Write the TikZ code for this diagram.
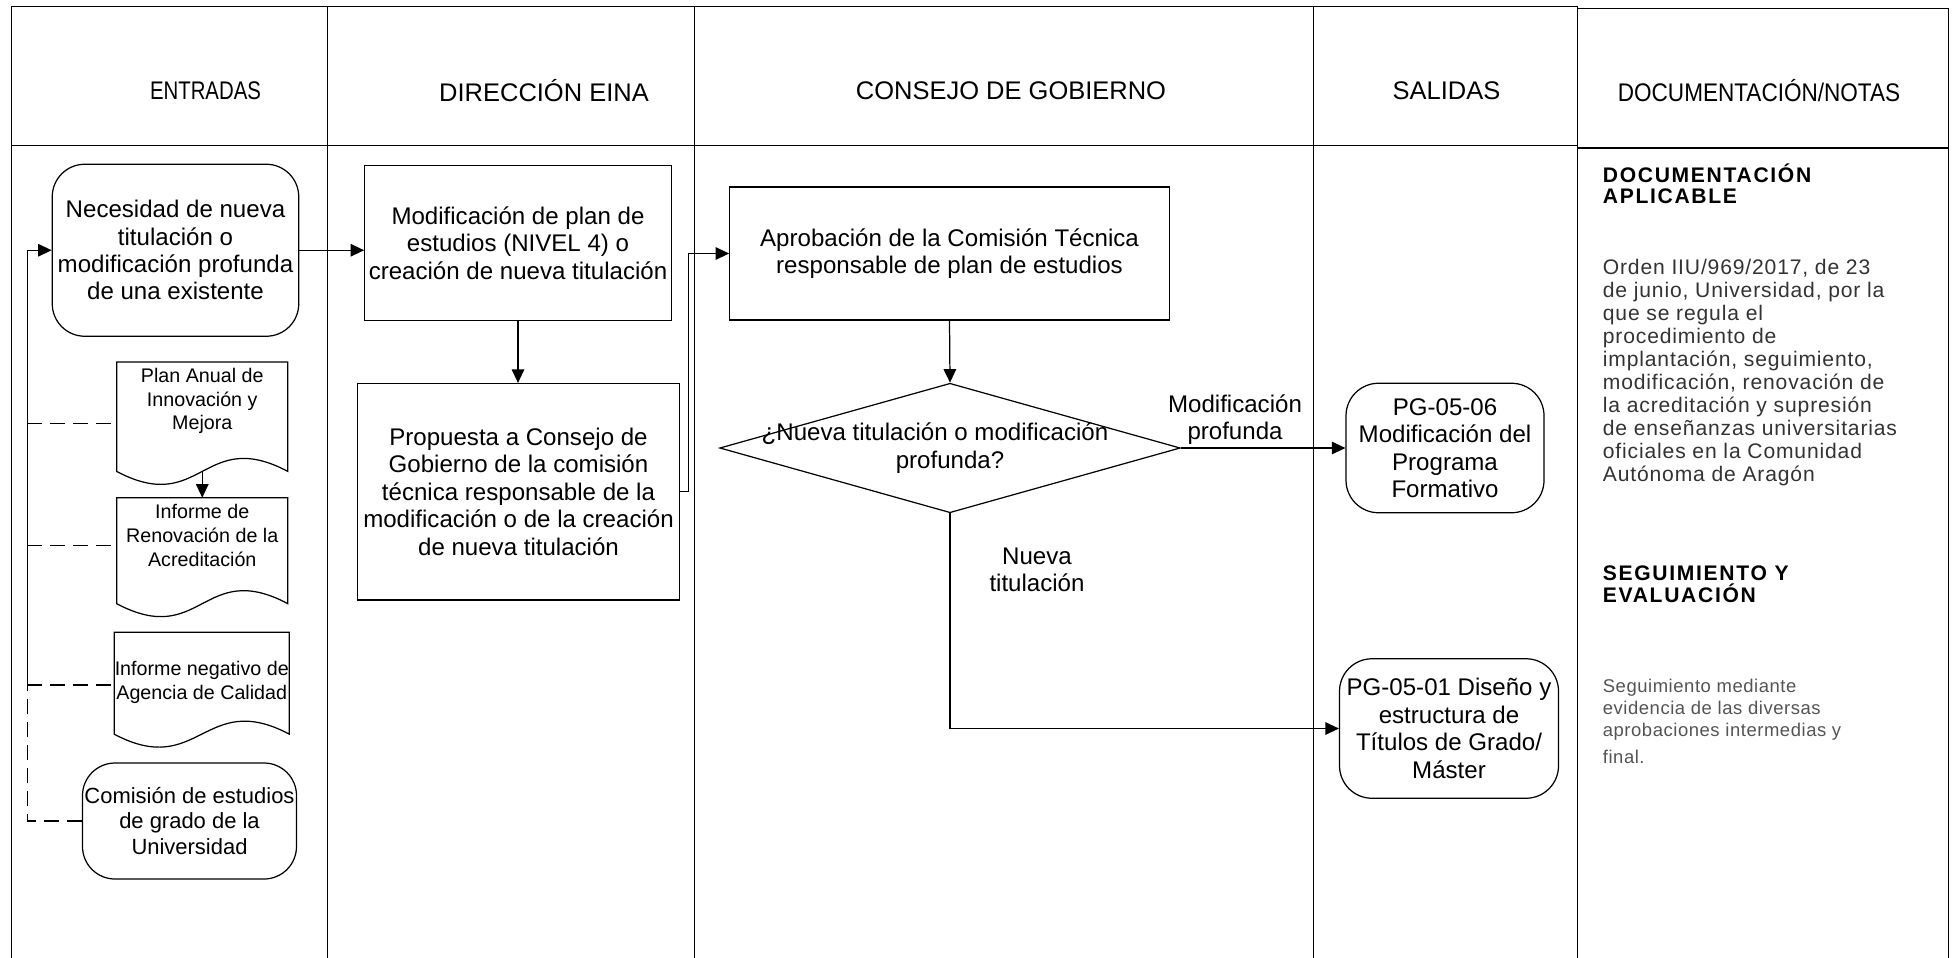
\documentclass[tikz,border=0pt]{standalone}
\usepackage{fontspec}
\setmainfont{Liberation Sans}
\newfontfamily\headfont[LetterSpace=8]{Liberation Sans}
\newfontfamily\notesfont[LetterSpace=4]{Liberation Sans}
\newfontfamily\smallnotesfont[LetterSpace=3]{Liberation Sans}
\usepackage{xcolor}
\usepackage{tikz}
\usetikzlibrary{
    positioning,
    arrows.meta,
    shapes.geometric,
    calc,
}
\definecolor{notegray}{gray}{0.2}
\definecolor{smallgray}{gray}{0.33}
\newcommand{\boxfont}{\fontsize{13.7}{15.6}\selectfont}
\newcommand{\docfont}{\fontsize{11.2}{13.4}\selectfont}
\tikzset{
    % Lane styles
    lane/.style={draw, line width=0.7pt},
    lane title/.style={font=\fontsize{14.5}{17}\selectfont},
    % Block styles
    process/.style={rectangle, draw, line width=0.7pt, align=center,
                    inner sep=0pt, font=\boxfont},
    terminal/.style={process, rounded corners=0.65cm},
    decision/.style={diamond, draw, line width=0.7pt, inner sep=0pt},
    docbox/.style={rectangle, align=center, inner sep=0pt, font=\docfont},
    % Arrow styles
    arrow/.style={-{Triangle[length=2.7mm, width=2.5mm]}, line width=0.7pt},
    feed/.style={line width=0.7pt, dash pattern=on 3mm off 1.6mm},
    % Annotation styles
    branch label/.style={font=\boxfont, align=center, inner sep=0pt},
    notes head/.style={font=\headfont\fontsize{12}{12.2}\selectfont\bfseries,
                       align=left, inner sep=0pt, anchor=north west},
    notes body/.style={font=\notesfont\fontsize{12}{13.1}\selectfont,
                       text=notegray, align=left, inner sep=0pt, anchor=north west},
    notes small/.style={font=\smallnotesfont\fontsize{10.5}{12.5}\selectfont,
                        text=smallgray, align=left, inner sep=0pt, anchor=north west},
}
% document shape: outline with a wavy bottom edge under node #1
\newcommand{\docwave}[2]{%
    \draw[line width=0.7pt] (#1.north west) -- (#1.north east) -- ++(0,-#2)
        .. controls +(-1.7,0.9) and +(1.7,-0.9) .. ([yshift=-#2]#1.north west) -- cycle;
    \coordinate (#1 wave) at ([yshift=-#2]#1.north);
}

\begin{document}
\begin{tikzpicture}
    \useasboundingbox (0,0) rectangle (39.04,-19.14);

    % Lanes
    \draw[lane] (0.224,-19.4) -- (0.224,-0.125) -- (31.55,-0.125) -- (31.55,-19.4);
    \draw[lane] (0.224,-2.91) -- (31.55,-2.91);
    \draw[lane] (6.549,-0.125) -- (6.549,-19.4);
    \draw[lane] (13.894,-0.125) -- (13.894,-19.4);
    \draw[lane] (26.27,-0.125) -- (26.27,-19.4);
    \draw[lane] (31.55,-19.4) -- (31.55,-0.17) -- (38.97,-0.17) -- (38.97,-19.4);
    \draw[lane] (31.55,-2.96) -- (38.97,-2.96);

    \node[lane title, xscale=0.8, transform shape] (hEntradas) at (4.11,-1.82) {ENTRADAS};
    \node[lane title] (hDireccion) at (10.88,-1.82) {DIRECCIÓN EINA};
    \node[lane title] (hConsejo) at (20.22,-1.82) {CONSEJO DE GOBIERNO};
    \node[lane title] (hSalidas) at (28.93,-1.82) {SALIDAS};
    \node[lane title, xscale=0.885, transform shape] (hNotas) at (35.18,-1.82) {DOCUMENTACIÓN/NOTAS};

    % Entradas
    \node[terminal, minimum width=4.93cm, minimum height=3.44cm] (necesidad) at (3.51,-5.005)
        {Necesidad de nueva\\titulación o\\modificación profunda\\de una existente};
    \node[docbox, minimum width=3.41cm, minimum height=1.55cm] (plan) at (4.045,-8.02)
        {Plan Anual de\\Innovación y\\Mejora};
    \docwave{plan}{2.19cm}
    \node[docbox, minimum width=3.41cm, minimum height=1.5cm] (renov) at (4.045,-10.71)
        {Informe de\\Renovación de la\\Acreditación};
    \docwave{renov}{2.12cm}
    \node[docbox, minimum width=3.49cm, minimum height=2.0cm] (negativo) at (4.035,-13.65)
        {Informe negativo de\\Agencia de Calidad};
    \docwave{negativo}{2.04cm}
    \node[terminal, minimum width=4.28cm, minimum height=2.32cm,
          font=\fontsize{12.5}{14.5}\selectfont] (comision) at (3.79,-16.42)
        {Comisión de estudios\\de grado de la\\Universidad};

    % Direccion EINA
    \node[process, minimum width=6.13cm, minimum height=3.09cm] (modificacion) at (10.36,-4.86)
        {Modificación de plan de\\estudios (NIVEL 4) o\\creación de nueva titulación};
    \node[process, minimum width=6.45cm, minimum height=4.33cm] (propuesta) at (10.37,-9.835)
        {Propuesta a Consejo de\\Gobierno de la comisión\\técnica responsable de la\\modificación o de la creación\\de nueva titulación};

    % Consejo de Gobierno
    \node[process, minimum width=8.79cm, minimum height=2.66cm] (aprobacion) at (18.99,-5.07)
        {Aprobación de la Comisión Técnica\\responsable de plan de estudios};
    \node[decision, minimum width=9.21cm, minimum height=2.59cm,
          label={[branch label]center:{¿Nueva titulación o modificación\hspace*{0.6cm}\\profunda?}}]
        (pregunta) at (19.0,-8.96) {};
    \node[branch label] (lProfunda) at (24.70,-8.39) {Modificación\\profunda};
    \node[branch label] (lNueva) at (20.74,-11.40) {Nueva\\titulación};

    % Salidas
    \node[terminal, minimum width=3.96cm, minimum height=2.59cm] (pg0506) at (28.9,-8.96)
        {PG-05-06\\Modificación del\\Programa\\Formativo};
    \node[terminal, minimum width=4.38cm, minimum height=2.79cm] (pg0501) at (28.98,-14.57)
        {PG-05-01 Diseño y\\estructura de\\Títulos de Grado/\\Máster};

    % Documentacion / notas
    \node[notes head] (docHead) at (32.05,-3.27) {DOCUMENTACIÓN\\APLICABLE};
    \node[notes body] (docBody) at (32.05,-5.17)
        {Orden IIU/969/2017, de 23\\de junio, Universidad, por la\\que se regula el\\procedimiento de\\implantación, seguimiento,\\modificación, renovación de\\la acreditación y supresión\\de enseñanzas universitarias\\oficiales en la Comunidad\\Autónoma de Aragón};
    \node[notes head] (segHead) at (32.05,-11.31) {SEGUIMIENTO Y\\EVALUACIÓN};
    \node[notes small] (segBody) at (32.05,-13.57)
        {Seguimiento mediante\\evidencia de las diversas\\aprobaciones intermedias y\\[3pt]final.};

    % Connectors
    \coordinate (jog) at (13.77,-9.9);
    \coordinate (busplan) at (0.548,-8.47);
    \coordinate (busrenov) at (0.548,-10.91);
    \coordinate (busneg) at (0.548,-13.70);

    \draw[arrow] (necesidad.east) -- (necesidad.east -| modificacion.west);
    \draw[arrow] (modificacion.south) -- (modificacion.south |- propuesta.north);
    \draw[arrow] (propuesta.east) -- (propuesta.east -| jog) |- (aprobacion.west);
    \draw[arrow] (aprobacion.south) -- (pregunta.north);
    \draw[arrow] (pregunta.east) -- (pg0506.west);
    \draw[arrow] (pregunta.south) |- (pg0501.west);
    \draw[arrow] (plan wave) -- (renov.north);

    \draw[feed] (busplan) -- (busplan -| plan.west);
    \draw[feed] (busrenov) -- (busrenov -| renov.west);
    \draw[feed] (busneg) -- (busneg -| negativo.west);
    \draw[feed] (comision.west) -| (busneg);
    \draw[arrow] (busneg) |- (necesidad.west);
\end{tikzpicture}
\end{document}
